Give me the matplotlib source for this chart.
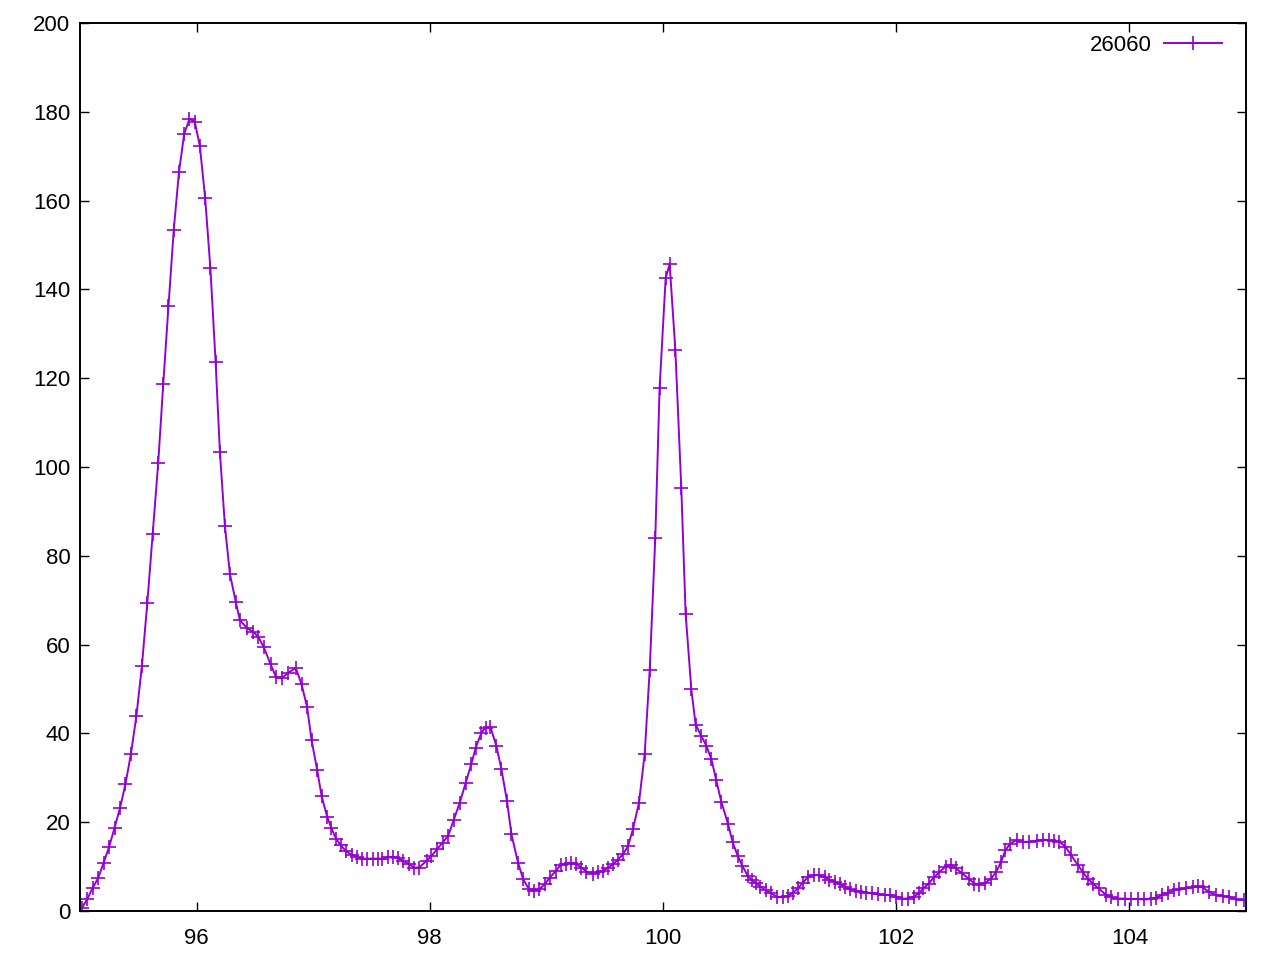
import matplotlib
matplotlib.use("Agg")
import matplotlib.pyplot as plt

plt.rcParams["font.family"] = ["Liberation Sans", "DejaVu Sans"]

# spectrum trace "26060" (x, intensity)
x = [
    95.015, 95.062, 95.109, 95.155, 95.202, 95.249, 95.296, 95.343, 95.390, 95.437,
    95.484, 95.531, 95.577, 95.624, 95.671, 95.714, 95.759, 95.804, 95.849, 95.894,
    95.939, 95.984, 96.028, 96.073, 96.118, 96.163, 96.200, 96.243, 96.286, 96.337,
    96.371, 96.434, 96.485, 96.528, 96.577, 96.634, 96.680, 96.729, 96.785, 96.851,
    96.900, 96.948, 96.986, 97.034, 97.072, 97.120, 97.157, 97.198, 97.237, 97.280,
    97.329, 97.372, 97.420, 97.462, 97.509, 97.552, 97.594, 97.643, 97.685, 97.728,
    97.771, 97.820, 97.863, 97.908, 97.972, 98.014, 98.062, 98.109, 98.157, 98.206,
    98.257, 98.308, 98.357, 98.394, 98.443, 98.480, 98.520, 98.571, 98.614, 98.662,
    98.700, 98.757, 98.800, 98.851, 98.891, 98.937, 98.986, 99.028, 99.080, 99.123,
    99.166, 99.214, 99.257, 99.300, 99.343, 99.400, 99.443, 99.485, 99.528, 99.571,
    99.614, 99.657, 99.700, 99.742, 99.794, 99.843, 99.886, 99.934, 99.971, 100.023,
    100.057, 100.106, 100.157, 100.194, 100.243, 100.280, 100.329, 100.372, 100.415, 100.457,
    100.500, 100.557, 100.597, 100.640, 100.680, 100.728, 100.760, 100.794, 100.834, 100.880,
    100.929, 100.977, 101.028, 101.071, 101.114, 101.157, 101.200, 101.242, 101.291, 101.337,
    101.386, 101.428, 101.471, 101.514, 101.557, 101.600, 101.657, 101.700, 101.743, 101.794,
    101.842, 101.900, 101.949, 102.000, 102.051, 102.099, 102.149, 102.194, 102.234, 102.279,
    102.328, 102.371, 102.423, 102.471, 102.514, 102.565, 102.622, 102.671, 102.714, 102.765,
    102.814, 102.857, 102.900, 102.937, 102.977, 103.034, 103.085, 103.143, 103.205, 103.257,
    103.308, 103.357, 103.400, 103.451, 103.500, 103.557, 103.600, 103.642, 103.685, 103.737,
    103.800, 103.843, 103.899, 103.963, 104.014, 104.071, 104.128, 104.186, 104.228, 104.280,
    104.328, 104.385, 104.428, 104.486, 104.542, 104.585, 104.628, 104.685, 104.743, 104.800,
    104.857, 104.914, 104.985,
]
y = [
    0.6, 2.7, 5.2, 7.4, 10.8, 14.4, 18.7, 23.2, 28.6, 35.4,
    44.0, 55.2, 69.3, 85.0, 101.0, 118.7, 136.3, 153.4, 166.5, 175.1,
    178.4, 177.8, 172.3, 160.7, 144.9, 123.7, 103.4, 86.7, 75.9, 69.5,
    65.5, 63.7, 62.9, 61.8, 59.4, 55.6, 52.8, 52.4, 53.7, 54.7,
    51.1, 45.9, 38.5, 31.8, 25.9, 21.2, 18.6, 16.2, 14.8, 13.5,
    12.7, 12.2, 11.8, 11.8, 11.8, 11.8, 11.8, 12.1, 12.2, 11.9,
    11.3, 10.6, 9.8, 9.8, 11.3, 12.4, 13.9, 15.4, 16.9, 20.6,
    24.4, 28.9, 33.2, 36.8, 40.2, 41.3, 41.4, 37.2, 32.0, 24.8,
    17.3, 10.9, 7.2, 4.9, 4.5, 4.9, 6.0, 7.5, 9.0, 10.4,
    10.6, 10.9, 10.5, 9.8, 8.9, 8.4, 8.7, 9.0, 9.8, 10.5,
    11.6, 12.8, 14.6, 18.4, 24.4, 35.4, 54.3, 84.1, 117.9, 142.6,
    145.7, 126.4, 95.3, 67.0, 49.9, 42.0, 39.4, 37.2, 34.2, 29.5,
    24.6, 19.7, 15.5, 12.5, 10.2, 7.9, 7.0, 6.3, 5.5, 4.7,
    4.0, 3.2, 3.1, 3.4, 4.1, 5.1, 6.4, 7.6, 8.1, 8.1,
    7.6, 7.1, 6.6, 6.1, 5.5, 4.9, 4.6, 4.3, 4.1, 4.0,
    3.8, 3.6, 3.6, 3.2, 2.8, 2.8, 3.2, 4.0, 5.1, 6.2,
    7.7, 8.8, 10.0, 10.4, 9.6, 8.5, 7.3, 6.2, 5.9, 6.4,
    7.3, 8.8, 11.1, 13.7, 15.2, 16.0, 15.6, 15.6, 15.8, 16.1,
    16.0, 15.8, 15.6, 14.5, 12.6, 10.4, 8.8, 7.3, 6.2, 5.1,
    3.6, 3.1, 2.8, 2.8, 2.7, 2.7, 2.6, 2.7, 3.0, 3.6,
    4.1, 4.7, 4.9, 5.1, 5.3, 5.6, 5.3, 4.3, 3.6, 3.4,
    3.2, 2.6, 2.5,
]
label = "26060"
xticks = [96, 98, 100, 102, 104]
yticks = [0, 20, 40, 60, 80, 100, 120, 140, 160, 180, 200]

fig = plt.figure(figsize=(12.84, 9.61), dpi=100)
ax = fig.add_axes([0.0623, 0.052, 0.9081, 0.924])

ax.plot(x, y, "-", color="#9400d3", lw=1.4, marker="+", ms=10, mew=1.2,
        label=label)

ax.set_xlim(95, 105)
ax.set_ylim(0, 200)
ax.set_xticks(xticks)
ax.set_yticks(yticks)
ax.tick_params(direction="in", top=True, right=True, length=6.5, width=1.0,
               labelsize=16)
ax.tick_params(axis="x", pad=12)
ax.tick_params(axis="y", pad=7)
for sp in ax.spines.values():
    sp.set_linewidth(1.4)

# legend sits top right, sample line after the text, no frame
ax.legend(loc="center right", bbox_to_anchor=(0.9794, 0.9752), frameon=False,
          markerfirst=False, fontsize=16, handlelength=2.6,
          handletextpad=0.55, borderaxespad=0, borderpad=0)

fig.savefig("out.png", dpi=100)
